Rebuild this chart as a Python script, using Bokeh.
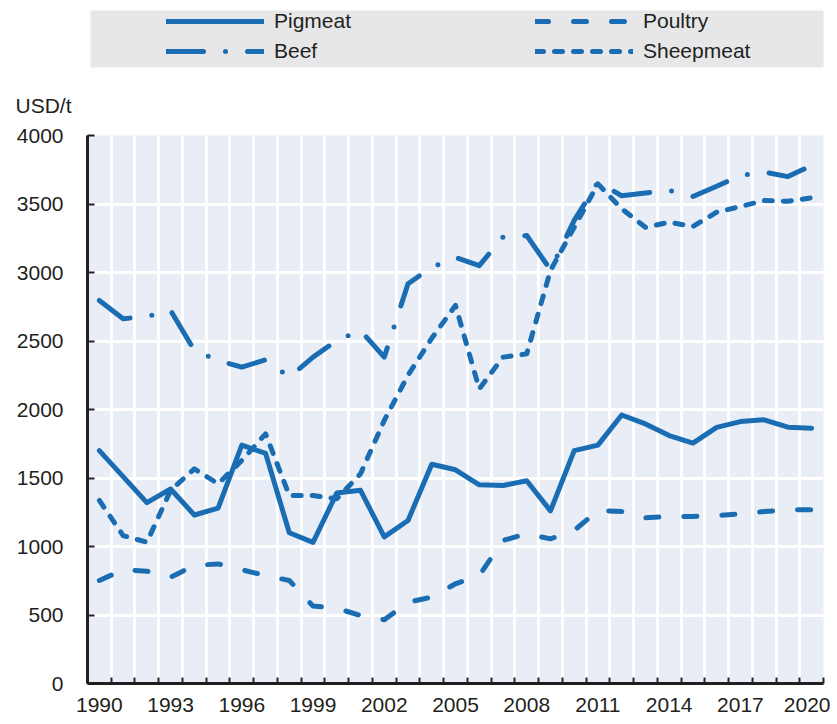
from bokeh.plotting import figure
from bokeh.models import Range1d, FixedTicker, Legend, LegendItem, Title
from bokeh.layouts import column
from bokeh.embed import file_html
from bokeh.resources import INLINE

# ---------------- data ----------------
years = list(range(1990, 2021))
pigmeat = [1700, 1510, 1320, 1420, 1230, 1280, 1740, 1680, 1100, 1030,
           1390, 1410, 1070, 1190, 1600, 1560, 1450, 1445, 1480, 1260,
           1700, 1740, 1960, 1895, 1810, 1755, 1870, 1912, 1925, 1871, 1864]
poultry = [752, 830, 820, 776, 861, 873, 830, 788, 752, 565,
           550, 496, 465, 594, 630, 728, 788, 1044, 1093, 1056,
           1117, 1263, 1255, 1209, 1219, 1219, 1226, 1238, 1255, 1268, 1268]
beef = [2796, 2662, 2679, 2723, 2431, 2358, 2309, 2363, 2236, 2382,
        2504, 2577, 2382, 2918, 3039, 3110, 3050, 3258, 3270, 3020,
        3380, 3659, 3560, 3580, 3600, 3555, 3630, 3708, 3733, 3700, 3781]
sheepmeat = [1336, 1080, 1031, 1409, 1567, 1458, 1628, 1822, 1372, 1372,
             1348, 1531, 1920, 2250, 2520, 2760, 2150, 2382, 2406, 3015,
             3330, 3647, 3465, 3330, 3367, 3336, 3440, 3482, 3525, 3520, 3545]
series_names = ["Pigmeat", "Poultry", "Beef", "Sheepmeat"]
tick_years = [1990, 1993, 1996, 1999, 2002, 2005, 2008, 2011, 2014, 2017, 2020]
y_ticks = [0, 500, 1000, 1500, 2000, 2500, 3000, 3500, 4000]
unit_label = "USD/t"

# ---------------- style ----------------
BLUE = "#1a6db3"
FONT = "Liberation Sans"
TEXT = "#231f20"
BG = "#e9edf5"
LEG_BG = "#e7e7e9"
dashes = {"Pigmeat": "solid", "Poultry": "13 25", "Beef": "37 22 0 22", "Sheepmeat": "8 11"}
values = {"Pigmeat": pigmeat, "Poultry": poultry, "Beef": beef, "Sheepmeat": sheepmeat}

W = 830
LEFT, RIGHT = 87, 7
HEAD_H = 70

# ---------------- header with legend ----------------
head = figure(width=W, height=HEAD_H, x_range=Range1d(LEFT, W - RIGHT), y_range=Range1d(HEAD_H, 0),
              output_backend="svg", toolbar_location=None,
              min_border_left=LEFT, min_border_right=RIGHT, min_border_top=0, min_border_bottom=0,
              x_axis_location=None, y_axis_location=None, outline_line_color=None,
              background_fill_color="white", border_fill_color="white")
head.grid.visible = False
head.quad(left=90, right=W, top=10, bottom=67, fill_color=LEG_BG, line_color=None)

nan = float("nan")
dummy = {}
for name in series_names:
    dummy[name] = head.line(x=[nan], y=[nan], line_color=BLUE, line_width=5,
                            line_dash=dashes[name], line_cap="round", line_join="round")

def make_legend(names, x):
    return Legend(items=[LegendItem(label=n, renderers=[dummy[n]]) for n in names],
                  location=(x, 7), orientation="vertical",
                  padding=0, margin=0, spacing=6,
                  glyph_width=98, glyph_height=22, label_height=22, label_standoff=10,
                  label_text_font=FONT, label_text_font_size="21px", label_text_color=TEXT,
                  background_fill_alpha=0, border_line_alpha=0)

head.add_layout(make_legend(["Pigmeat", "Beef"], 79), "center")
head.add_layout(make_legend(["Poultry", "Sheepmeat"], 448), "center")

# ---------------- main chart ----------------
p = figure(width=W, height=651, x_range=Range1d(years[0] - 0.5, years[-1] + 0.5),
           y_range=Range1d(y_ticks[0], y_ticks[-1]),
           output_backend="svg", toolbar_location=None,
           min_border_left=LEFT, min_border_right=RIGHT, min_border_top=65, min_border_bottom=38,
           background_fill_color=BG, border_fill_color="white", outline_line_color=None)

p.add_layout(Title(text=unit_label, align="left", offset=-72, standoff=38,
                   text_font=FONT, text_font_size="21px", text_color=TEXT,
                   text_font_style="normal"), "above")

boundaries = [y - 0.5 for y in years] + [years[-1] + 0.5]

p.xaxis.ticker = FixedTicker(ticks=tick_years, minor_ticks=boundaries)
p.xaxis.major_tick_in = 0
p.xaxis.major_tick_out = 0
p.xaxis.minor_tick_in = 6
p.xaxis.minor_tick_out = 0
p.xaxis.minor_tick_line_color = TEXT
p.xaxis.minor_tick_line_width = 2
p.xaxis.major_label_standoff = 14

p.yaxis.ticker = FixedTicker(ticks=y_ticks)
p.yaxis.major_tick_in = 7
p.yaxis.major_tick_out = 0
p.yaxis.major_tick_line_width = 2
p.yaxis.major_tick_line_color = TEXT
p.yaxis.minor_tick_line_color = None
p.yaxis.major_label_standoff = 24

for ax in (p.xaxis, p.yaxis):
    ax.axis_line_color = TEXT
    ax.axis_line_width = 3
    ax.major_label_text_font = FONT
    ax.major_label_text_font_size = "21px"
    ax.major_label_text_color = TEXT

p.xgrid.ticker = FixedTicker(ticks=boundaries)
p.xgrid.grid_line_color = "white"
p.xgrid.grid_line_width = 3
p.ygrid.grid_line_color = "white"
p.ygrid.grid_line_width = 3

for name in series_names:
    p.line(x=years, y=values[name], line_color=BLUE, line_width=5,
           line_dash=dashes[name], line_cap="round", line_join="round")

layout = column(head, p, spacing=0)
open("out.html", "w").write(file_html(layout, INLINE))
